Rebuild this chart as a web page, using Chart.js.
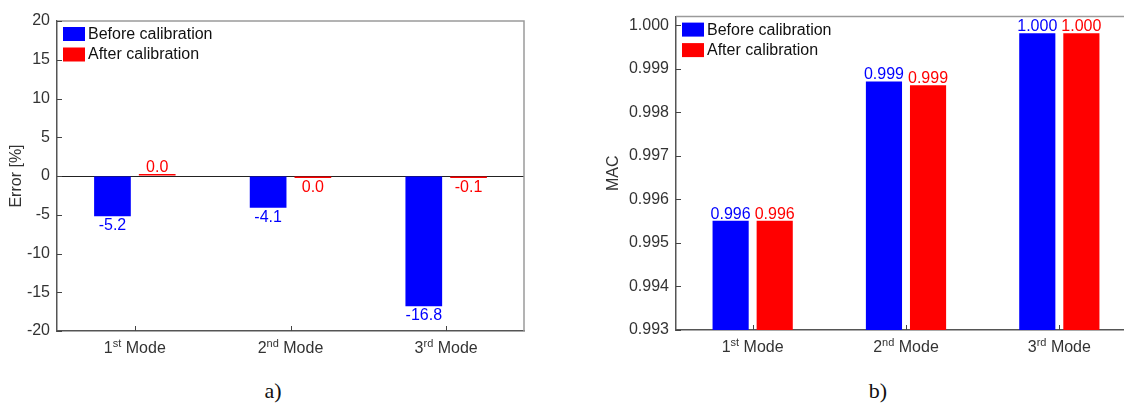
<!DOCTYPE html>
<html>
<head>
<meta charset="utf-8">
<script src="https://cdn.jsdelivr.net/npm/chart.js@4.4.0/dist/chart.umd.min.js"></script>
<style>
  html, body { margin: 0; padding: 0; background: #fff; overflow: hidden; }
  body { width: 1124px; height: 403px; position: relative; }
  canvas { position: absolute; top: 0; }
  #chartA { left: 0; }
  #chartB { left: 600px; }
  .cap { position: absolute; top: 380px; width: 100px; text-align: center; line-height: 22px;
         font-family: 'Liberation Serif', 'Times New Roman', serif; font-size: 22px; color: #111; }
</style>
</head>
<body>
<canvas id="chartA" width="540" height="365"></canvas>
<canvas id="chartB" width="545" height="365"></canvas>
<div class="cap" style="left:223px">a)</div>
<div class="cap" style="left:828px">b)</div>
<script>
// chart data
var categories = ['1st Mode', '2nd Mode', '3rd Mode'];
var seriesNames = ['Before calibration', 'After calibration'];
var seriesColors = ['#0000ff', '#ff0000'];

var errorBefore = [-5.2, -4.1, -16.8];
var errorAfter = [0.02, -0.03, -0.1];
var errorTicks = [-20, -15, -10, -5, 0, 5, 10, 15, 20];

var macBefore = [0.99551, 0.99871, 0.99982];
var macAfter = [0.99551, 0.99862, 0.99982];
var macTicks = [0.993, 0.994, 0.995, 0.996, 0.997, 0.998, 0.999, 1.000];

var FONT = "'Liberation Sans', Arial, sans-serif";

function fmt(v, dec) {
  var s = v.toFixed(dec);
  if (s === '-' + (0).toFixed(dec)) s = (0).toFixed(dec);
  return s;
}

// legend, value labels, inward ticks, frame and superscript category labels
var decorPlugin = {
  id: 'decor',
  afterDraw: function(chart, args, opts) {
    var ctx = chart.ctx;
    var area = chart.chartArea;
    var xs = chart.scales.x, ys = chart.scales.y;
    ctx.save();

    // top and right frame
    ctx.strokeStyle = '#9a9a9a';
    ctx.lineWidth = 1.5;
    ctx.beginPath();
    ctx.moveTo(area.left, area.top);
    ctx.lineTo(area.right, area.top);
    ctx.lineTo(area.right, area.bottom);
    ctx.stroke();

    // inward ticks
    ctx.strokeStyle = '#444';
    ctx.lineWidth = 1;
    ctx.beginPath();
    ys.ticks.forEach(function(t) {
      var y = Math.round(ys.getPixelForValue(t.value)) + 0.5;
      ctx.moveTo(area.left, y);
      ctx.lineTo(area.left + 5, y);
    });
    categories.forEach(function(c, i) {
      var x = Math.round(xs.getPixelForValue(i)) + 0.5;
      ctx.moveTo(x, area.bottom);
      ctx.lineTo(x, area.bottom - 5);
    });
    ctx.stroke();

    // category labels with superscript
    ctx.fillStyle = '#333';
    ctx.textBaseline = 'alphabetic';
    ctx.textAlign = 'left';
    categories.forEach(function(c, i) {
      var m = c.match(/^(\d+)(\w+)(\s.*)$/);
      ctx.font = '16px ' + FONT;
      var w1 = ctx.measureText(m[1]).width;
      var w3 = ctx.measureText(m[3]).width;
      ctx.font = '11px ' + FONT;
      var w2 = ctx.measureText(m[2]).width;
      var x = xs.getPixelForValue(i) - (w1 + w2 + w3) / 2;
      var y = area.bottom + 22;
      ctx.font = '16px ' + FONT;
      ctx.fillText(m[1], x, y);
      ctx.font = '11px ' + FONT;
      ctx.fillText(m[2], x + w1, y - 6);
      ctx.font = '16px ' + FONT;
      ctx.fillText(m[3], x + w1 + w2, y);
    });

    // value labels
    ctx.font = '16px ' + FONT;
    ctx.textAlign = 'center';
    chart.data.datasets.forEach(function(ds, di) {
      var meta = chart.getDatasetMeta(di);
      meta.data.forEach(function(el, j) {
        var v = ds.data[j];
        ctx.fillStyle = ds.backgroundColor;
        if (v >= opts.base) {
          ctx.fillText(fmt(v, opts.decimals), el.x, el.y - 2);
        } else {
          ctx.fillText(fmt(v, opts.decimals), el.x, el.y + 14);
        }
      });
    });

    // legend inside the plot
    ctx.textAlign = 'left';
    ctx.textBaseline = 'middle';
    chart.data.datasets.forEach(function(ds, di) {
      var top = area.top + 6 + di * 20.5;
      ctx.fillStyle = ds.backgroundColor;
      ctx.fillRect(area.left + 6, top, 22, 14);
      ctx.fillStyle = '#111';
      ctx.fillText(ds.label, area.left + 31, top + 7.5);
    });

    ctx.restore();
  }
};

function makeChart(id, before, after, yMin, yMax, yTicks, decimals, base, title, pad, axisW, xH, tickPad, titlePad, zeroLine) {
  return new Chart(document.getElementById(id), {
    type: 'bar',
    data: {
      labels: categories,
      datasets: [
        { label: seriesNames[0], data: before, backgroundColor: seriesColors[0], minBarLength: 2 },
        { label: seriesNames[1], data: after, backgroundColor: seriesColors[1], minBarLength: 2 }
      ]
    },
    options: {
      responsive: false,
      animation: false,
      layout: { padding: pad },
      datasets: { bar: { categoryPercentage: 0.575, barPercentage: 0.82 } },
      plugins: {
        legend: { display: false },
        tooltip: { enabled: false },
        decor: { decimals: decimals, base: base }
      },
      scales: {
        x: {
          afterFit: function(s) { s.height = xH; },
          ticks: { display: false },
          grid: { display: false },
          border: { color: '#555', width: 1.5 }
        },
        y: {
          min: yMin,
          max: yMax,
          afterFit: function(s) { s.width = axisW; },
          afterBuildTicks: function(s) { s.ticks = yTicks.map(function(v) { return { value: v }; }); },
          ticks: {
            color: '#333',
            padding: tickPad,
            font: { family: FONT, size: 16 },
            callback: function(v) { return decimals === 1 ? String(v) : v.toFixed(3); }
          },
          grid: {
            drawTicks: false,
            display: zeroLine,
            lineWidth: 1,
            color: function(c) { return c.tick && c.tick.value === 0 ? '#222' : 'rgba(0,0,0,0)'; }
          },
          border: { color: '#555', width: 1.5 },
          title: {
            display: true,
            text: title,
            color: '#333',
            font: { family: FONT, size: 16 },
            padding: { top: titlePad, bottom: 0 }
          }
        }
      }
    },
    plugins: [decorPlugin]
  });
}

makeChart('chartA', errorBefore, errorAfter, -20, 20, errorTicks, 1, 0, 'Error [%]',
  { left: 0, top: 21, right: 16, bottom: 0 }, 57, 34, 7, 7, true);
makeChart('chartB', macBefore, macAfter, 0.993, 1.0002, macTicks, 3, 0.993, 'MAC',
  { left: 0, top: 7, right: 9, bottom: 0 }, 76, 35, 7, 4, false);
</script>
</body>
</html>
